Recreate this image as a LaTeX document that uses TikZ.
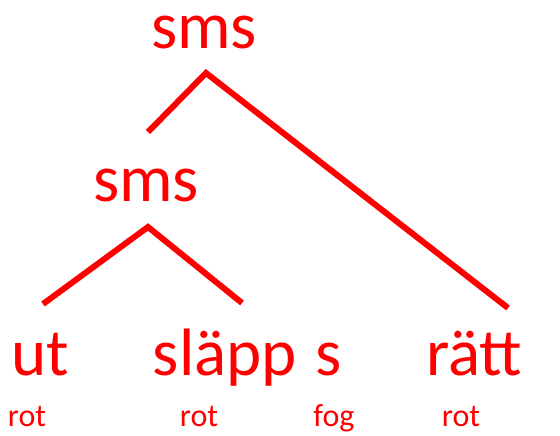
\documentclass[tikz,border=0pt]{standalone}
\usepackage{fontspec}
\setmainfont{Carlito}
\usepackage{tikz}
\usepackage{xcolor}
\definecolor{treered}{HTML}{FF0000}
\tikzset{
    x=1pt, y=1pt,
    big-word/.style = {text=treered, inner sep=0pt, anchor=base, text height=0.55em, font=\fontsize{67}{76}\selectfont},
    small-tag/.style = {text=treered, inner sep=0pt, anchor=base, font=\fontsize{32}{36}\selectfont},
    branch/.style = {draw=treered, line width=6pt},
}

\begin{document}
\begin{tikzpicture}
\useasboundingbox (0,0) rectangle (560,436);
% words
\node[big-word] (top) at (204,387) {sms};
\node[big-word] (mid) at (146,234) {sms};
\node[big-word] (ut) at (40,60) {ut};
\node[big-word] (slapp) at (225,60) {släpp};
\node[big-word] (s) at (329,60) {s};
\node[big-word] (ratt) at (474,60) {rätt};
% tags
\node[small-tag] (rot-ut) at (27,9) {rot};
\node[small-tag] (rot-slapp) at (199,9) {rot};
\node[small-tag] (fog-s) at (334,9) {fog};
\node[small-tag] (rot-ratt) at (461,9) {rot};
% branch ends
\coordinate (top-apex) at (206,363);
\coordinate (top-left) at (148,304);
\coordinate (top-right) at (508,128);
\coordinate (mid-apex) at (148,209);
\coordinate (mid-left) at (43,132);
\coordinate (mid-right) at (242,133);
\draw[branch] (top-left) -- (top-apex) -- (top-right);
\draw[branch] (mid-left) -- (mid-apex) -- (mid-right);
\end{tikzpicture}
\end{document}
